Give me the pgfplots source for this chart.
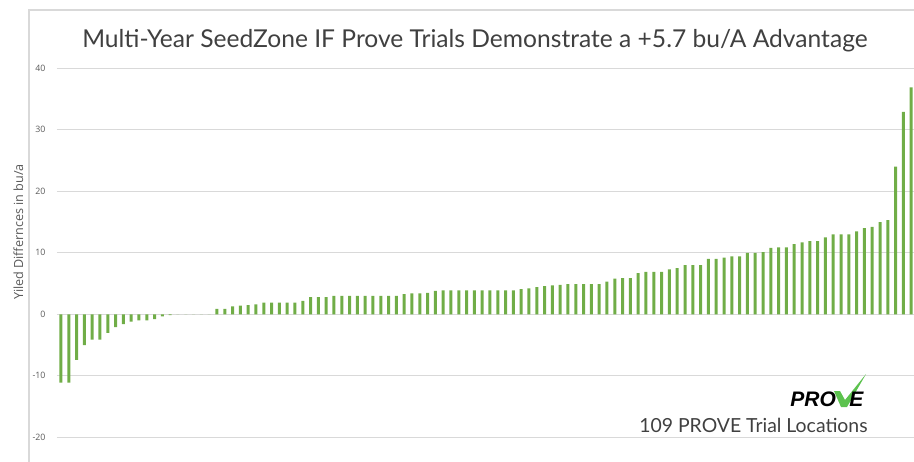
\documentclass[border=0pt]{standalone}
\usepackage{pgfplots}
\pgfplotsset{compat=1.18}
\usepackage{pgfplotstable}
\usepackage{fontspec}
\setmainfont{Lato}
\newfontfamily\osans{Open Sans}
\newfontfamily\logofont{Liberation Sans}
\definecolor{bargreen}{HTML}{70AD47}
\definecolor{gridgray}{HTML}{D9D9D9}
\definecolor{txtgray}{HTML}{404040}
\definecolor{tickgray}{HTML}{595959}
\definecolor{checkgreen}{HTML}{5CC24E}

\pgfplotstableread{
idx val
0 -11.1
1 -11.1
2 -7.4
3 -5.0
4 -4.1
5 -4.1
6 -3.0
7 -2.1
8 -1.6
9 -1.2
10 -1.0
11 -1.0
12 -0.8
13 -0.35
14 -0.15
15 0
16 0
17 0
18 0
19 0
20 0.9
21 0.9
22 1.3
23 1.4
24 1.5
25 1.6
26 1.9
27 1.9
28 1.9
29 1.9
30 1.9
31 2.2
32 2.8
33 2.8
34 2.8
35 3.0
36 3.0
37 3.0
38 3.0
39 3.0
40 3.0
41 3.0
42 3.0
43 3.0
44 3.3
45 3.4
46 3.4
47 3.5
48 3.8
49 3.9
50 3.9
51 3.9
52 3.9
53 3.9
54 3.9
55 3.9
56 3.9
57 3.9
58 3.9
59 4.1
60 4.2
61 4.4
62 4.6
63 4.7
64 4.8
65 4.9
66 4.9
67 4.9
68 4.9
69 4.9
70 5.3
71 5.8
72 5.9
73 5.9
74 6.7
75 6.9
76 6.9
77 6.9
78 7.3
79 7.5
80 8.0
81 8.0
82 8.0
83 9.0
84 9.0
85 9.2
86 9.4
87 9.4
88 10.0
89 10.0
90 10.1
91 10.8
92 10.9
93 10.9
94 11.4
95 11.7
96 11.9
97 11.9
98 12.5
99 13.0
100 13.0
101 13.0
102 13.5
103 14.0
104 14.2
105 15.0
106 15.3
107 24.0
108 32.9
109 36.9
}\yielddata

\begin{document}
\begin{tikzpicture}
\begin{axis}[
  scale only axis, width=428.5pt, height=184.5pt,
  xmin=-0.51, xmax=109.36, ymin=-20, ymax=40,
  ytick={-20,-10,0,10,20,30,40},
  yticklabels={-20,-10,0,10,20,30,40},
  xtick=\empty,
  ymajorgrids, grid style={gridgray, line width=0.5pt},
  axis line style={draw=none},
  major tick length=0pt,
  yticklabel style={font=\osans\fontsize{4.4}{5}\selectfont, text=tickgray, anchor=east, inner sep=0pt, xshift=-5.6pt},
  ybar, bar width=1.5pt,
]
\addplot[fill=bargreen, draw=none] table[x=idx,y=val]{\yielddata};
\coordinate (sw) at (rel axis cs:0,0);
\end{axis}
\path (sw) ++(-28.5pt,218.65pt) coordinate (tl);
\begin{scope}[shift={(tl)}, x=0.5pt, y=-0.5pt]
\draw[gridgray, line width=0.65pt] (29,470) -- (29,10) -- (930,10);
\node[anchor=base, text=txtgray, inner sep=0pt, font=\fontsize{12.3}{14}\selectfont] at (475,48) {Multi-Year SeedZone IF Prove Trials Demonstrate a +5.7 bu/A Advantage};
\node[rotate=90, anchor=base, text=tickgray, inner sep=0pt, font=\osans\fontsize{6.3}{7}\selectfont] at (23,232) {Yiled Differnces in bu/a};
\node[anchor=base east, text=txtgray, font=\fontsize{9.7}{11}\selectfont, inner sep=0pt] at (868,432) {109 PROVE Trial Locations};
\node[anchor=base west, inner sep=0pt, font=\logofont\bfseries\itshape\fontsize{10.5}{12}\selectfont] at (790,406.7) {PRO};
\fill[checkgreen] (834,391) -- (840,391) -- (845,400) -- (866,374) -- (847,407) -- (841,407) -- cycle;
\node[anchor=base west, inner sep=0pt, font=\logofont\bfseries\itshape\fontsize{10.5}{12}\selectfont] at (849,406.7) {E};
\end{scope}
\pgfresetboundingbox
\path[use as bounding box] (tl) rectangle ++(457pt,-230.5pt);
\end{tikzpicture}
\end{document}
